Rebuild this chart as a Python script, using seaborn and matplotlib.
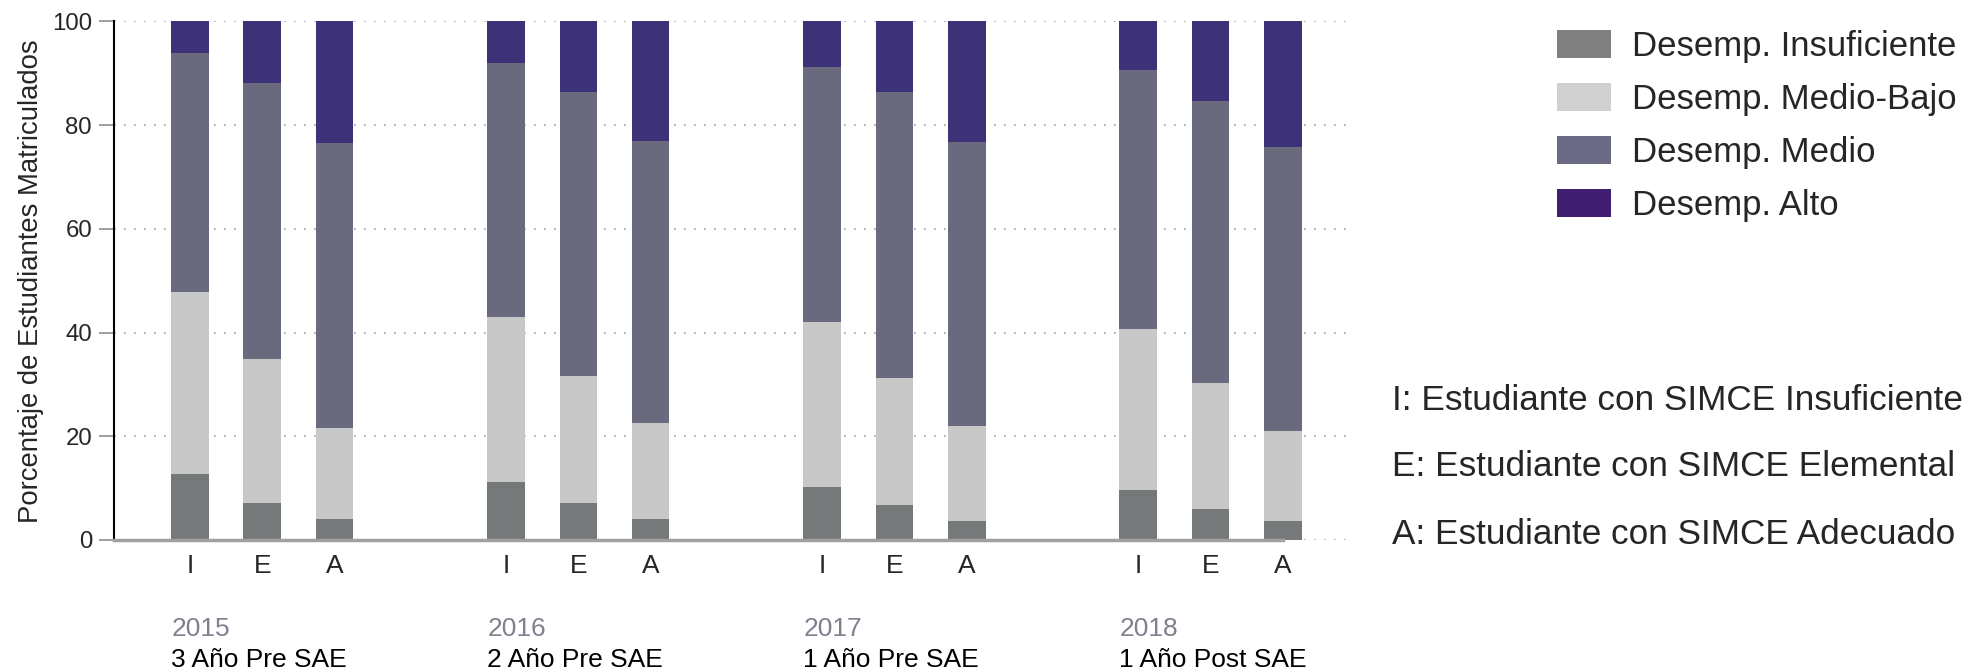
import numpy as np
import pandas as pd
import seaborn as sns
import matplotlib.pyplot as plt
from matplotlib.patches import Patch
from matplotlib import transforms

# set a style
sns.set_style("white")
plt.rcParams['font.family'] = ['Liberation Sans', 'DejaVu Sans']

# ======================
# Data: % of enrolled students by performance level

years = ['2015', '2016', '2017', '2018']
periods = ['3 Año Pre SAE', '2 Año Pre SAE', '1 Año Pre SAE', '1 Año Post SAE']
simce = ['I', 'E', 'A']
levels = ['Desemp. Insuficiente', 'Desemp. Medio-Bajo', 'Desemp. Medio', 'Desemp. Alto']

# one value per bar: 2015 I, E, A, 2016 I, E, A, ...
insuficiente = [12.7, 7.2, 4.1, 11.2, 7.2, 4.1, 10.3, 6.7, 3.7, 9.6, 6.0, 3.6]
medio_bajo = [35.2, 27.7, 17.5, 31.8, 24.5, 18.5, 31.8, 24.5, 18.3, 31.0, 24.2, 17.5]
medio = [46.0, 53.3, 54.9, 48.9, 54.6, 54.3, 49.2, 55.1, 54.7, 50.0, 54.4, 54.6]
alto = [6.1, 11.8, 23.5, 8.1, 13.7, 23.1, 8.7, 13.7, 23.3, 9.4, 15.4, 24.3]

notes = ['I: Estudiante con SIMCE Insuficiente',
         'E: Estudiante con SIMCE Elemental',
         'A: Estudiante con SIMCE Adecuado']

bar_colors = ['#767979', '#c7c8c7', '#696a7e', '#3d3178']
legend_colors = ['#808080', '#d0d0d0', '#6b6a85', '#401f73']

# ======================
# build table

group_gap = 4.37
bar_width = 0.52

df = pd.DataFrame({'year': np.repeat(years, len(simce)),
                   'simce': simce * len(years),
                   levels[0]: insuficiente,
                   levels[1]: medio_bajo,
                   levels[2]: medio,
                   levels[3]: alto})
df['pos'] = [g * group_gap + b for g in range(len(years)) for b in range(len(simce))]
cum = df[levels].cumsum(axis=1)

# ======================
# plot

fig = plt.figure(figsize=(19.73, 6.72), dpi=100)
ax = fig.add_axes([114 / 1973, 132 / 672, 1239 / 1973, 518.6 / 672])

# stacked bars: draw the tallest cumulative first, then overlay
for lev, col in reversed(list(zip(levels, bar_colors))):
    sns.barplot(x=df['pos'], y=cum[lev], native_scale=True, color=col,
                saturation=1, width=bar_width, linewidth=0,
                errorbar=None, ax=ax, zorder=2)

ax.set_xlim(-1.05, 16.08)
ax.set_ylim(0, 100)

ax.set_xticks(df['pos'])
ax.set_xticklabels(df['simce'])
ax.tick_params(axis='x', length=0, pad=10, labelsize=19)
ax.set_yticks([0, 20, 40, 60, 80, 100])
ax.set_yticklabels(['0', '20', '40', '60', '80', '100'])
ax.tick_params(axis='y', left=True, length=10.8, width=1.3, color='#999999',
               labelsize=17.3, pad=5)
ax.set_xlabel('')
ax.set_ylabel('Porcentaje de Estudiantes Matriculados', fontsize=19.8)
ax.yaxis.set_label_coords(-0.0568, 0.5)

ax.yaxis.grid(True, color='#a0a0a0', linestyle=(0, (1, 5)), linewidth=1.2)
ax.xaxis.grid(False)
ax.set_axisbelow(True)

for s in ['top', 'right']:
    ax.spines[s].set_visible(False)
ax.spines['left'].set_color('black')
ax.spines['left'].set_linewidth(1.5)
ax.spines['bottom'].set_color('#a0a0a0')
ax.spines['bottom'].set_linewidth(2.5)
ax.spines['bottom'].set_bounds(-1.05, df['pos'].iloc[-1])

# group labels under the axis
trans = transforms.blended_transform_factory(ax.transData, fig.transFigure)
for g, (yr, per) in enumerate(zip(years, periods)):
    x0 = g * group_gap - bar_width / 2
    ax.text(x0, 1 - 629 / 672, yr, transform=trans, fontsize=19,
            color='#80808f', va='center', ha='left')
    ax.text(x0, 1 - 660 / 672, per, transform=trans, fontsize=19,
            color='black', va='center', ha='left')

# legend
handles = [Patch(facecolor=c, edgecolor='none') for c in legend_colors]
fig.legend(handles, levels, loc='upper left',
           bbox_to_anchor=(1557 / 1973, 1 - 30 / 672), frameon=False,
           fontsize=25, handlelength=1.55, handleheight=0.86,
           handletextpad=0.6, labelspacing=0.58, borderpad=0,
           borderaxespad=0)

# notes on SIMCE categories
for note, y in zip(notes, [400, 467, 534]):
    fig.text(1392 / 1973, 1 - y / 672, note, fontsize=25.3, va='center',
             ha='left')

fig.savefig('out.png', dpi=100)
